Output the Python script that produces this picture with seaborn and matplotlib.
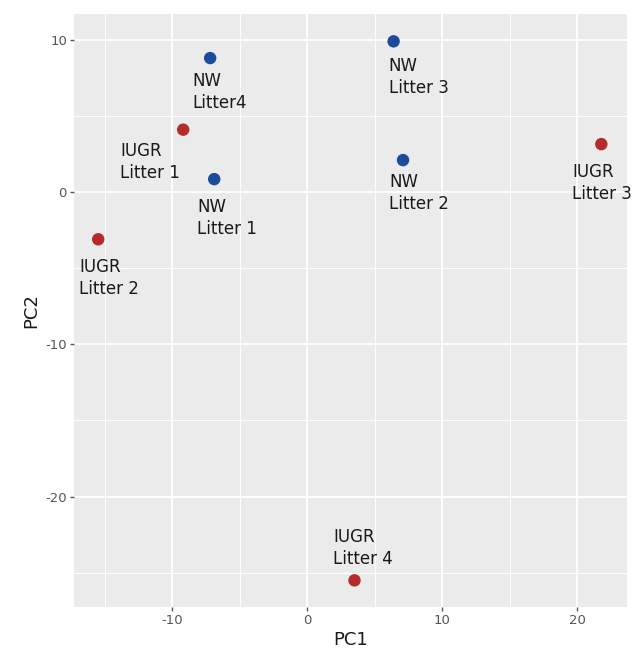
import matplotlib
matplotlib.use("Agg")
import matplotlib.pyplot as plt
import seaborn as sns
import pandas as pd
from matplotlib.ticker import MultipleLocator

# PCA scores per litter
samples = ["NW\nLitter4", "IUGR\nLitter 1", "NW\nLitter 1", "IUGR\nLitter 2",
           "NW\nLitter 3", "NW\nLitter 2", "IUGR\nLitter 3", "IUGR\nLitter 4"]
groups = ["NW", "IUGR", "NW", "IUGR", "NW", "NW", "IUGR", "IUGR"]
pc1 = [-7.2, -9.2, -6.9, -15.5, 6.4, 7.1, 21.8, 3.5]
pc2 = [8.8, 4.1, 0.85, -3.1, 9.9, 2.1, 3.15, -25.5]

# label offsets from each point (pixels: right, down)
label_dx = [-18, -63, -17, -19, -5, -14, -29, -21]
label_dy = [34, 32, 39, 39, 36, 33, 39, -32]

df = pd.DataFrame({"PC1": pc1, "PC2": pc2, "group": groups, "sample": samples})

sns.set_theme(style="darkgrid")
plt.rcParams.update({
    "axes.facecolor": "#EBEBEB",
    "grid.color": "white",
    "axes.edgecolor": "#EBEBEB",
    "axes.linewidth": 0,
    "axes.unicode_minus": False,
})
plt.rcParams["font.family"] = ["DejaVu Sans"]

fig = plt.figure(figsize=(6.32, 6.51), dpi=100)
ax = fig.add_axes([0.117, 0.0676, 0.875, 0.911])

palette = {"NW": "#1d4b9b", "IUGR": "#b52a2b"}
sns.scatterplot(data=df, x="PC1", y="PC2", hue="group", palette=palette,
                s=80, edgecolor="none", legend=False, ax=ax, zorder=3)

px = 0.72  # points per pixel at 100 dpi
for x, y, lab, dx, dy in zip(pc1, pc2, samples, label_dx, label_dy):
    ax.annotate(lab, (x, y), xytext=(dx * px, -dy * px), textcoords="offset points",
                ha="left", va="center", fontsize=12, color="#1a1a1a",
                linespacing=1.3, zorder=4)

ax.set_xlim(-17.3, 23.7)
ax.set_ylim(-27.25, 11.7)
ax.xaxis.set_major_locator(MultipleLocator(10))
ax.yaxis.set_major_locator(MultipleLocator(10))
ax.xaxis.set_minor_locator(MultipleLocator(5))
ax.yaxis.set_minor_locator(MultipleLocator(5))
ax.grid(which="major", color="white", linewidth=1.4)
ax.grid(which="minor", color="white", linewidth=0.7)
ax.tick_params(which="major", length=3, width=1, color="#555555", labelcolor="#555555",
               labelsize=9.5, bottom=True, left=True, pad=2)
ax.tick_params(which="minor", length=0)
for s in ax.spines.values():
    s.set_visible(False)

ax.set_xlabel("PC1", fontsize=13, color="#1a1a1a", labelpad=3)
ax.set_ylabel("PC2", fontsize=13, color="#1a1a1a", labelpad=4)

fig.savefig("out.png", dpi=100, facecolor="white")
